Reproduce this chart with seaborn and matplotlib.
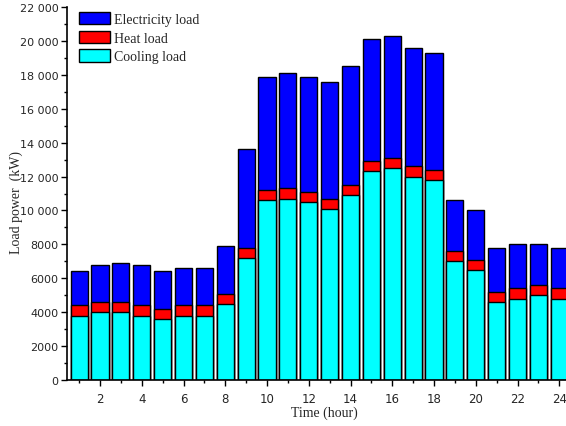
import matplotlib
matplotlib.use("Agg")
import matplotlib.pyplot as plt
from matplotlib.patches import Patch
from matplotlib.ticker import MultipleLocator, FuncFormatter
import numpy as np
import pandas as pd
import seaborn as sns

hours = list(range(1, 25))
cooling = [3800, 4000, 4000, 3800, 3600, 3800, 3800, 4500, 7200, 10600, 10700, 10500,
           10100, 10900, 12300, 12500, 12000, 11800, 7000, 6500, 4600, 4800, 5000, 4800]
heat = [600] * 24
electricity = [2000, 2200, 2300, 2400, 2200, 2200, 2200, 2800, 5800, 6700, 6800, 6800,
               6900, 7000, 7200, 7200, 7000, 6900, 3000, 2900, 2600, 2600, 2400, 2400]
labels = ["Electricity load", "Heat load", "Cooling load"]
colors = ["#0000ff", "#ff0000", "#00ffff"]

df = pd.DataFrame({"hour": hours, "cooling": cooling, "heat": heat, "electricity": electricity})
df["heat_top"] = df["cooling"] + df["heat"]
df["total"] = df["heat_top"] + df["electricity"]

sns.set_style("ticks")
plt.rcParams["font.family"] = ["DejaVu Sans"]

fig = plt.figure(figsize=(5.66, 4.27), dpi=100)
L, R, B, T = 67, 566, 381, 8
ax = fig.add_axes([L / 566, 1 - B / 427, (R - L) / 566, (B - T) / 427])

kw = dict(native_scale=True, width=0.82, saturation=1, edgecolor="black", linewidth=1.0, ax=ax)
sns.barplot(data=df, x="hour", y="total", color=colors[0], **kw)
sns.barplot(data=df, x="hour", y="heat_top", color=colors[1], **kw)
sns.barplot(data=df, x="hour", y="cooling", color=colors[2], **kw)

ax.set_xlim(0.42, 24.32)
ax.set_ylim(0, 22000)
ax.xaxis.set_major_locator(MultipleLocator(2))
ax.xaxis.set_minor_locator(MultipleLocator(1))
ax.yaxis.set_major_locator(MultipleLocator(2000))
ax.yaxis.set_minor_locator(MultipleLocator(1000))


def fmt(v, pos):
    v = int(round(v))
    if v >= 10000:
        return f"{v:,}".replace(",", " ")
    return str(v)


ax.yaxis.set_major_formatter(FuncFormatter(fmt))
ax.tick_params(axis="both", which="major", direction="out", length=4.3, width=1, color="black")
ax.tick_params(axis="both", which="minor", direction="out", length=2.3, width=1, color="black")
ax.tick_params(axis="x", labelsize=8.5, pad=4.5)
ax.tick_params(axis="y", labelsize=8, pad=2)

for s in ["top", "right"]:
    ax.spines[s].set_visible(False)
for s in ["left", "bottom"]:
    ax.spines[s].set_linewidth(1.2)
    ax.spines[s].set_color("black")

serif = ["Liberation Serif", "DejaVu Serif"]
ax.set_xlabel("Time (hour)", family=serif, fontsize=10)
ax.xaxis.set_label_coords((324 - L) / (R - L), -(413 - B) / (B - T))
ax.xaxis.label.set_va("center")
ax.set_ylabel("Load power  (kW)", family=serif, fontsize=10)
ax.yaxis.set_label_coords(-(67 - 16) / (R - L), (B - 203) / (B - T))
ax.yaxis.label.set_va("center")

handles = [Patch(facecolor=c, edgecolor="black", linewidth=1) for c in colors]
ax.legend(handles, labels, loc="upper left",
          bbox_to_anchor=((79 - L) / (R - L), (B - 13) / (B - T)), frameon=False,
          prop={"family": serif, "size": 10}, handlelength=2.2, handleheight=1.0,
          handletextpad=0.3, labelspacing=0.33, borderaxespad=0, borderpad=0)

fig.savefig("out.png", dpi=100)
